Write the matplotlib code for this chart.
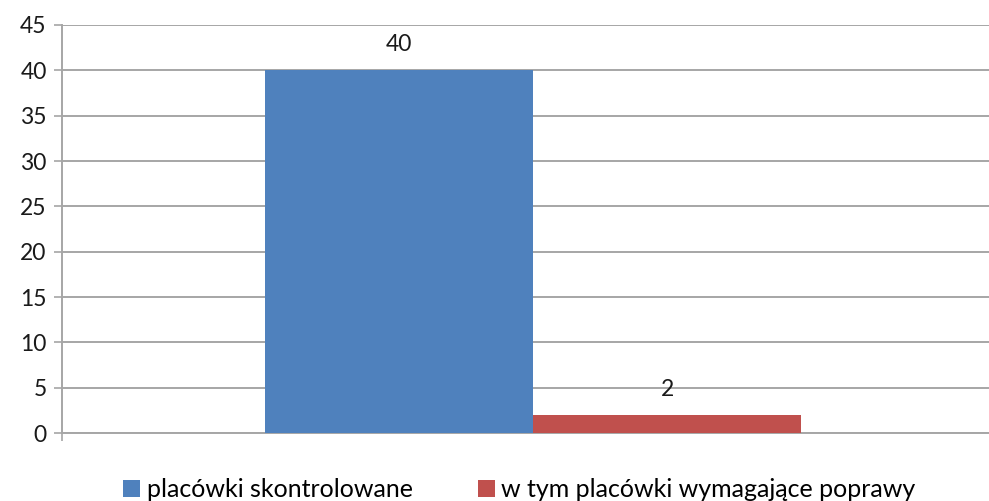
import matplotlib.pyplot as plt

plt.rcParams['font.family'] = ['Lato', 'DejaVu Sans']

serie = ["placówki skontrolowane", "w tym placówki wymagające poprawy"]
wartosci = [40, 2]
kolory = ["#4F81BD", "#C0504D"]
pozycje = [0, 1]

fig = plt.figure(figsize=(9.89, 5.01), dpi=100)
ax = fig.add_axes([0.0627, 0.1357, 0.9373, 0.8144])

for p, v, k, s in zip(pozycje, wartosci, kolory, serie):
    ax.bar(p, v, width=1.0, color=k, label=s, zorder=3)
    ax.annotate(str(v), (p, v), xytext=(0, 11), textcoords="offset points",
                ha="center", va="bottom", fontsize=16.5, color="#1a1a1a")

xmin, xmax = -1.257, 2.201
ax.set_xlim(xmin, xmax)
ax.set_ylim(0, 45)
ax.set_yticks(range(0, 46, 5))
ax.yaxis.grid(True, color="#A6A6A6", linewidth=1.4, zorder=0)

ax.set_xticks([xmin])
ax.set_xticklabels([""])
ax.tick_params(axis="x", length=6, width=1.2, color="#A6A6A6")
ax.tick_params(axis="y", length=6, width=1.2, color="#A6A6A6",
               labelsize=16.5, labelcolor="#1a1a1a", pad=5)

for strona in ["top", "right"]:
    ax.spines[strona].set_visible(False)
ax.spines["left"].set_color("#A6A6A6")
ax.spines["left"].set_linewidth(1.4)
ax.spines["bottom"].set_color("#A6A6A6")
ax.spines["bottom"].set_linewidth(1.4)

fig.legend(loc="lower center", bbox_to_anchor=(0.525, -0.045), ncol=2,
           frameon=False, fontsize=18, handlelength=0.7, handleheight=0.7,
           handletextpad=0.25, columnspacing=2.6)

fig.savefig("out.png", dpi=100)
